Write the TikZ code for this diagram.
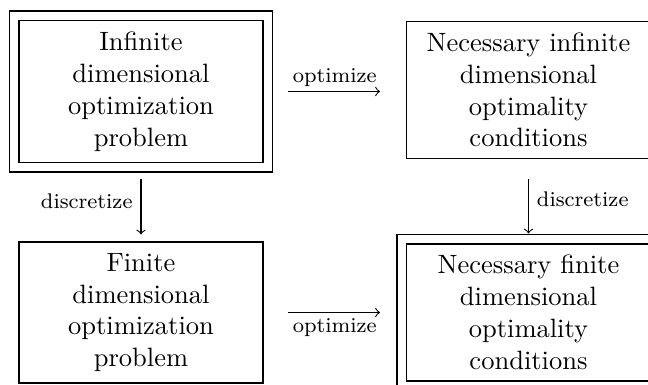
\documentclass[tikz,border=0pt]{standalone}
\usetikzlibrary{fit}
\begin{document}
\begin{tikzpicture}[x=0.3771pt,y=-0.3771pt,
  box/.style={draw, text width=3cm, align=center, inner sep=0.3333em},
  frame/.style={draw, inner sep=3.39pt},
  lab/.style={font=\footnotesize, inner sep=0pt}]
\useasboundingbox (0,0) rectangle (648,385);
\node[box, minimum height=53.55pt] (A) at (141,91.5) {Infinite\\dimensional\\optimization\\problem};
\node[box, minimum height=51.66pt] (B) at (528.5,90) {Necessary infinite\\dimensional\\optimality\\conditions};
\node[box, minimum height=53.17pt] (C) at (141,312.5) {Finite\\dimensional\\optimization\\problem};
\node[box, minimum height=51.66pt] (D) at (528.5,312.5) {Necessary finite\\dimensional\\optimality\\conditions};
\node[frame, fit=(A)] (Aout) {};
\node[frame, fit=(D)] (Dout) {};
\draw[->, shorten <=9.4pt, shorten >=9.8pt] (A.east) -- (A.east -| B.west)
  node[lab, midway, anchor=base, yshift=3.4pt] (l1) {optimize};
\draw[->, shorten <=9.4pt, shorten >=9.8pt] (C.east) -- (D.west)
  node[lab, midway, anchor=base, yshift=-7.4pt] (l2) {optimize};
\draw[->, shorten <=6pt, shorten >=2.64pt] (A.south) -- (C.north)
  node[lab, midway, anchor=base east, xshift=-3pt, yshift=-2.3pt] (l3) {discretize};
\draw[->, shorten <=7.54pt, shorten >=3.77pt] (B.south) -- (D.north)
  node[lab, midway, anchor=base west, xshift=3pt, yshift=-1.9pt] (l4) {discretize};
\end{tikzpicture}
\end{document}
